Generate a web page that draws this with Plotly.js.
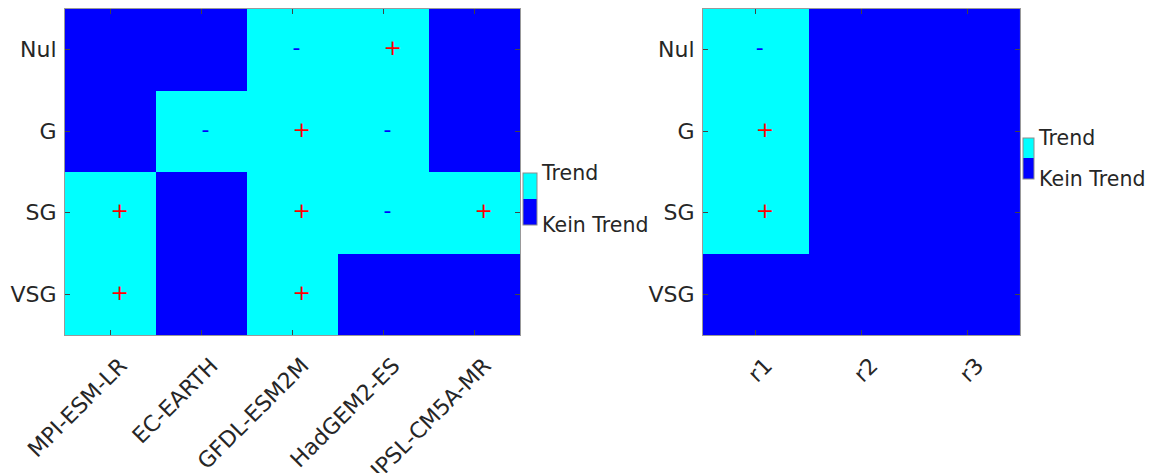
<!DOCTYPE html>
<html>
<head>
<meta charset="utf-8">
<script src="https://cdn.plot.ly/plotly-3.0.1.min.js"></script>
<style>html,body{margin:0;padding:0;background:#fff;}#chart{width:1153px;height:473px;}</style>
</head>
<body>
<div id="chart"></div>
<script>
// ---- data ----
const models = ['MPI-ESM-LR', 'EC-EARTH', 'GFDL-ESM2M', 'HadGEM2-ES', 'IPSL-CM5A-MR'];
const levels = ['Nul', 'G', 'SG', 'VSG'];
const runs = ['r1', 'r2', 'r3'];
// 1 = Trend, 0 = Kein Trend (rows follow levels)
const trendModels = [
  [0, 0, 1, 1, 0],
  [0, 1, 1, 1, 0],
  [1, 0, 1, 1, 1],
  [1, 0, 1, 0, 0]
];
const signModels = [
  ['', '', '-', '+', ''],
  ['', '-', '+', '-', ''],
  ['+', '', '+', '-', '+'],
  ['+', '', '+', '', '']
];
const trendRuns = [
  [1, 0, 0],
  [1, 0, 0],
  [1, 0, 0],
  [0, 0, 0]
];
const signRuns = [
  ['-', '', ''],
  ['+', '', ''],
  ['+', '', ''],
  ['', '', '']
];
const legendLabels = ['Kein Trend', 'Trend'];

// ---- style ----
const BLUE = '#0000ff', CYAN = '#00ffff';
const cscale = [[0, BLUE], [0.5, BLUE], [0.5, CYAN], [1, CYAN]];
const FONT = 'DejaVu Sans';
const TXT = '#262626';

function signTraces(cols, signs, xa, ya) {
  const out = [];
  const sets = {'+': '#ff0000', '-': BLUE};
  for (const s of Object.keys(sets)) {
    const x = [], y = [];
    signs.forEach((row, i) => row.forEach((v, j) => { if (v === s) { x.push(cols[j]); y.push(levels[i]); } }));
    out.push({
      type: 'scatter', mode: 'text', x: x, y: y, text: x.map(() => s),
      textposition: 'middle right', textfont: {family: FONT, size: 22, color: sets[s]},
      xaxis: xa, yaxis: ya, hoverinfo: 'skip', showlegend: false, cliponaxis: false
    });
  }
  return out;
}

const cbCommon = {
  tickvals: [0, 1], ticktext: legendLabels, ticks: '',
  tickfont: {family: FONT, size: 20.5, color: TXT},
  outlinecolor: '#8c8c8c', outlinewidth: 1,
  lenmode: 'pixels', xanchor: 'left', yanchor: 'middle', xpad: 0, ypad: 0,
  bgcolor: 'rgba(0,0,0,0)', borderwidth: 0
};

const data = [
  {
    type: 'heatmap', z: trendModels, x: models, y: levels,
    colorscale: cscale, zmin: 0, zmax: 1, xaxis: 'x', yaxis: 'y', hoverinfo: 'skip',
    colorbar: Object.assign({}, cbCommon, {x: 0.4793, y: 0.417, len: 52, thickness: 14})
  },
  {
    type: 'heatmap', z: trendRuns, x: runs, y: levels,
    colorscale: cscale, zmin: 0, zmax: 1, xaxis: 'x2', yaxis: 'y2', hoverinfo: 'skip',
    colorbar: Object.assign({}, cbCommon, {x: 1.0028, y: 0.541, len: 41, thickness: 11})
  }
].concat(signTraces(models, signModels, 'x', 'y'), signTraces(runs, signRuns, 'x2', 'y2'));

const axBase = {
  showgrid: false, zeroline: false, showline: true, mirror: 'ticks', linecolor: '#999', linewidth: 1,
  ticks: 'inside', ticklen: 5, tickcolor: '#444', tickwidth: 1,
  tickfont: {family: FONT, size: 22, color: TXT}, fixedrange: true
};

const layout = {
  width: 1153, height: 473,
  margin: {l: 65, r: 133, t: 9, b: 138, pad: 0},
  paper_bgcolor: '#fff', plot_bgcolor: '#fff',
  showlegend: false,
  xaxis: Object.assign({}, axBase, {domain: [0, 0.4764], anchor: 'y', tickangle: -45, ticklabelshift: 10, ticklabelstandoff: 8}),
  yaxis: Object.assign({}, axBase, {domain: [0, 1], anchor: 'x', autorange: 'reversed', ticklabelstandoff: 3}),
  xaxis2: Object.assign({}, axBase, {domain: [0.668, 1], anchor: 'y2', tickangle: -45, ticklabelshift: 10, ticklabelstandoff: 8}),
  yaxis2: Object.assign({}, axBase, {domain: [0, 1], anchor: 'x2', autorange: 'reversed', ticklabelstandoff: 3})
};

Plotly.newPlot('chart', data, layout, {staticPlot: true, displayModeBar: false});
</script>
</body>
</html>
